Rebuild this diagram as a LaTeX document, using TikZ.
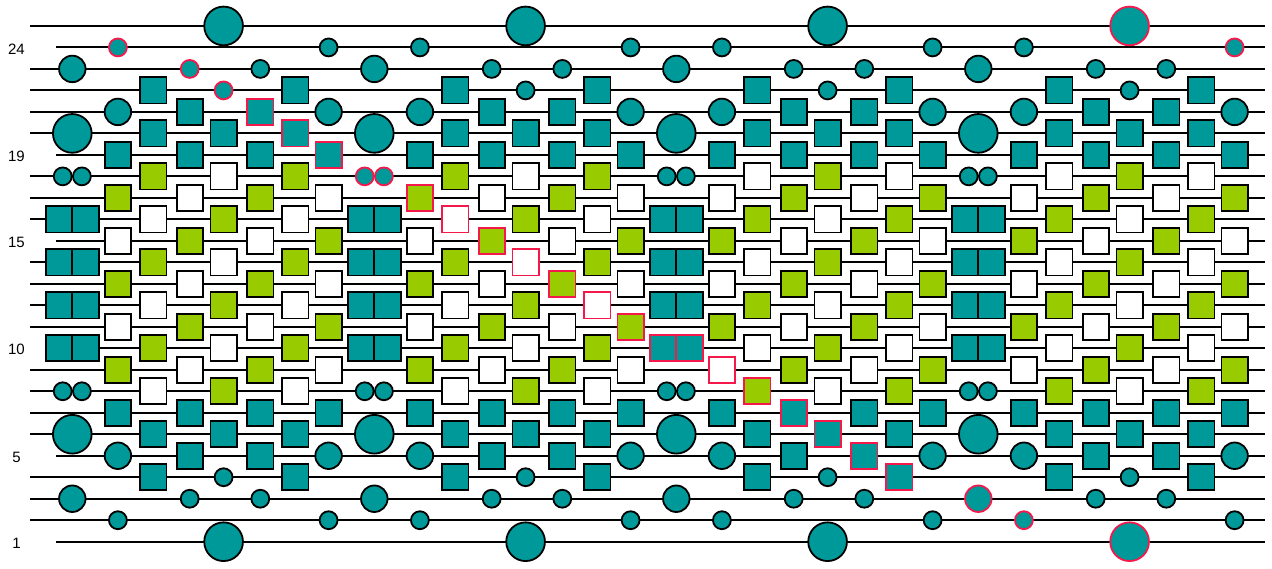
\documentclass[tikz,border=0pt]{standalone}
\usepackage{fontspec}
\setmainfont{Liberation Sans}
\definecolor{tealc}{RGB}{0,153,153}
\definecolor{greenc}{RGB}{153,204,0}
\definecolor{redc}{RGB}{245,25,75}
\tikzset{
  wire/.style={line width=1.9pt, draw=black},
  el/.style={line width=1.8pt, inner sep=0pt, outer sep=0pt},
  ty-T/.style={el, rectangle, minimum size=26.2pt},
  ty-X/.style={el, rectangle, minimum size=26.2pt},
  ty-DS/.style={el, rectangle, minimum size=26.2pt},
  ty-B/.style={el, circle, minimum size=38.7pt},
  ty-M/.style={el, circle, minimum size=26.5pt},
  ty-s/.style={el, circle, minimum size=17.9pt},
  ty-DC/.style={el, circle, minimum size=17.9pt},
  lbl/.style={font=\fontsize{15}{18}\selectfont, inner sep=0pt, anchor=center},
}
\def\tyX{X}\def\tyDS{DS}\def\tyDC{DC}
\foreach \gg/\kq in {1/24,3/23,4/22,5/21,6/20,7/19,8/18,9/17,10/16,11/15,12/14,13/13,14/12,15/11,16/10,17/9,18/8,19/7,20/6,21/5,22/4,24/3,25/2,28/1,28/25,31/24}{\expandafter\xdef\csname red-\gg-\kq\endcsname{1}}
\newcommand\placeEl[4]{%
  \pgfmathsetmacro\xo{{0,45.6,81,117.4,151.3,188,223,256.3}[#2]}%
  \pgfmathsetmacro\px{72.3+302*#1+\xo}%
  \pgfmathsetmacro\py{541.7-(#3-1)*21.49}%
  \pgfmathtruncatemacro\gi{8*#1+#2}%
  \pgfmathtruncatemacro\ki{#3}%
  \ifcsname red-\gi-\ki\endcsname\def\bc{redc}\else\def\bc{black}\fi
  \def\fc{tealc}%
  \edef\tyc{#4}%
  \ifx\tyc\tyX
    \pgfmathtruncatemacro\kz{mod(#2,2)==1 ? 17 : 18}%
    \pgfmathtruncatemacro\fl{#1>1 ? 1 : 0}%
    \pgfmathtruncatemacro\pa{mod(round((\kz-#3)/2) + floor((#2-1)/2) + \fl, 2)}%
    \ifnum\pa=0 \def\fc{greenc}\else\def\fc{white}\fi
  \fi
  \ifx\tyc\tyDS
    \pgfmathsetmacro\pxa{\px-13.2}\pgfmathsetmacro\pxb{\px+13.2}%
    \edef\tmp{\noexpand\node[ty-DS, draw=\bc, fill=\fc] (e-\gi-\ki-a) at (\pxa,\py) {}; \noexpand\node[ty-DS, draw=\bc, fill=\fc] (e-\gi-\ki-b) at (\pxb,\py) {};}%
  \else\ifx\tyc\tyDC
    \pgfmathsetmacro\pxa{\px-9.6}\pgfmathsetmacro\pxb{\px+9.6}%
    \edef\tmp{\noexpand\node[ty-DC, draw=\bc, fill=\fc] (e-\gi-\ki-a) at (\pxa,\py) {}; \noexpand\node[ty-DC, draw=\bc, fill=\fc] (e-\gi-\ki-b) at (\pxb,\py) {};}%
  \else
    \edef\tmp{\noexpand\node[ty-\tyc, draw=\bc, fill=\fc] (e-\gi-\ki) at (\px,\py) {};}%
  \fi\fi
  \tmp
}
\begin{document}
\begin{tikzpicture}[x=1pt, y=-1pt]
\useasboundingbox (0,0) rectangle (1272,568);
% wires
\foreach \kk in {1,...,25}{
  \pgfmathsetmacro\wy{541.7-(\kk-1)*21.49}
  \pgfmathsetmacro\wx{(\kk==1 || \kk==5 || \kk==10 || \kk==15 || \kk==19 || \kk==24) ? 56 : 30}
  \coordinate (wl-\kk) at (\wx,\wy);
  \coordinate (wr-\kk) at (1265,\wy);
  \draw[wire] (wl-\kk) -- (wr-\kk);
}
% labels
\foreach \kk in {1,5,10,15,19,24}{
  \pgfmathsetmacro\wy{541.7-(\kk-1)*21.49+1.5}
  \node[lbl] (lab-\kk) at (16.5,\wy) {\kk};
}
% elements
\foreach \bb in {0,1,2,3}{
  \foreach \kk/\tp in {23/M,20/B,18/DC,16/DS,14/DS,12/DS,10/DS,8/DC,6/B,3/M}{\placeEl{\bb}{0}{\kk}{\tp}}
  \foreach \cc in {1,7}{\foreach \kk/\tp in {24/s,21/M,19/T,17/X,15/X,13/X,11/X,9/X,7/T,5/M,2/s}{\placeEl{\bb}{\cc}{\kk}{\tp}}}
  \foreach \cc in {2,6}{\foreach \kk/\tp in {22/T,20/T,18/X,16/X,14/X,12/X,10/X,8/X,6/T,4/T}{\placeEl{\bb}{\cc}{\kk}{\tp}}}
  \foreach \cc in {3,5}{\foreach \kk/\tp in {23/s,21/T,19/T,17/X,15/X,13/X,11/X,9/X,7/T,5/T,3/s}{\placeEl{\bb}{\cc}{\kk}{\tp}}}
  \foreach \kk/\tp in {25/B,22/s,20/T,18/X,16/X,14/X,12/X,10/X,8/X,6/T,4/s,1/B}{\placeEl{\bb}{4}{\kk}{\tp}}
}
\end{tikzpicture}
\end{document}
